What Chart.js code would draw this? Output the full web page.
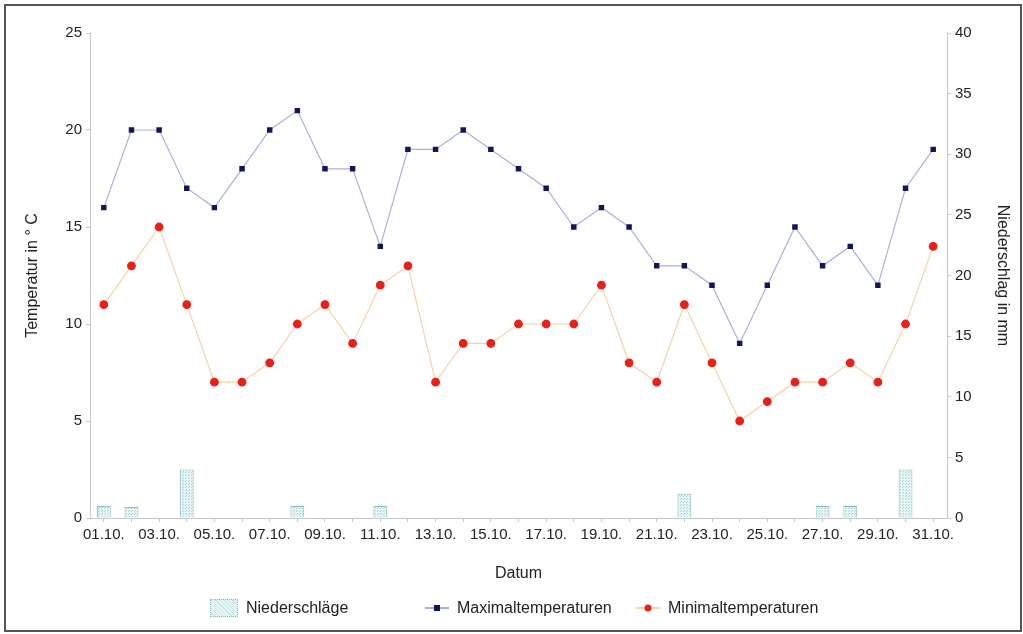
<!DOCTYPE html>
<html>
<head>
<meta charset="utf-8">
<script src="https://cdn.jsdelivr.net/npm/chart.js@4/dist/chart.umd.min.js"></script>
<style>
  html, body { margin: 0; padding: 0; background: #fff; }
  #frame {
    position: absolute; left: 4px; top: 4px;
    width: 1014px; height: 624px;
    border: 2px solid #555; background: #fff;
  }
  #c { display: block; }
  .lg { position: absolute; top: 598px; height: 20px; display: flex; align-items: center;
        font: 16px 'Liberation Sans', Arial, sans-serif; color: #222; }
  .lg .box { width: 26px; height: 16px; border: 1px dotted #8fbcc0; margin-right: 8px;
             background: repeating-linear-gradient(45deg, #e6f6f7 0 2px, #c5e4e6 2px 3px); }
  .lg .ln { position: relative; width: 24px; height: 2px; margin-right: 8px; }
  .lg .ln i { position: absolute; left: 50%; top: 50%; transform: translate(-50%, -50%); }
</style>
</head>
<body>
<div id="frame"><canvas id="c" width="1014" height="624"></canvas></div>
<div id="legend"></div>
<script>
// data
const days = ['01.10.', '02.10.', '03.10.', '04.10.', '05.10.', '06.10.', '07.10.', '08.10.', '09.10.', '10.10.',
  '11.10.', '12.10.', '13.10.', '14.10.', '15.10.', '16.10.', '17.10.', '18.10.', '19.10.', '20.10.',
  '21.10.', '22.10.', '23.10.', '24.10.', '25.10.', '26.10.', '27.10.', '28.10.', '29.10.', '30.10.', '31.10.'];
const maxTemp = [16, 20, 20, 17, 16, 18, 20, 21, 18, 18, 14, 19, 19, 20, 19, 18, 17, 15, 16, 15, 13, 13, 12, 9, 12, 15, 13, 14, 12, 17, 19];
const minTemp = [11, 13, 15, 11, 7, 7, 8, 10, 11, 9, 12, 13, 7, 9, 9, 10, 10, 10, 12, 8, 7, 11, 8, 5, 6, 7, 7, 8, 7, 10, 14];
const rain = [1, 0.9, 0, 4, 0, 0, 0, 1, 0, 0, 1, 0, 0, 0, 0, 0, 0, 0, 0, 0, 0, 2, 0, 0, 0, 0, 1, 1, 0, 4, 0];

const FONT = 'Liberation Sans, Arial, sans-serif';
const axisGray = '#c8c8c8';
const maxColor = '#14145a', maxLine = '#a9b0e0';
const minColor = '#e8201a', minLine = '#f7d2a8';

// dotted hatch fill for the rain bars
const pat = document.createElement('canvas');
pat.width = 3; pat.height = 3;
const pctx = pat.getContext('2d');
pctx.fillStyle = '#e6f6f7';
pctx.fillRect(0, 0, 3, 3);
pctx.fillStyle = '#a9d3d6';
pctx.fillRect(0, 0, 1, 1);
pctx.fillRect(2, 1, 1, 1);
const rainFill = document.getElementById('c').getContext('2d').createPattern(pat, 'repeat');

const chart = new Chart(document.getElementById('c'), {
  data: {
    labels: days,
    datasets: [
      {
        type: 'bar',
        label: 'Niederschläge',
        data: rain,
        yAxisID: 'yR',
        backgroundColor: rainFill,
        borderColor: '#8fbcc0',
        borderWidth: 1,
        barPercentage: 0.5,
        categoryPercentage: 1,
        order: 3
      },
      {
        type: 'line',
        label: 'Maximaltemperaturen',
        data: maxTemp,
        yAxisID: 'y',
        borderColor: maxLine,
        borderWidth: 1.2,
        pointStyle: 'rect',
        pointRadius: 3,
        pointBackgroundColor: maxColor,
        pointBorderColor: maxColor,
        tension: 0,
        order: 1
      },
      {
        type: 'line',
        label: 'Minimaltemperaturen',
        data: minTemp,
        yAxisID: 'y',
        borderColor: minLine,
        borderWidth: 1.2,
        pointStyle: 'circle',
        pointRadius: 3.8,
        pointBackgroundColor: minColor,
        pointBorderColor: minColor,
        tension: 0,
        order: 2
      }
    ]
  },
  options: {
    responsive: false,
    animation: false,
    layout: { padding: { top: 27, right: 0, left: 0, bottom: 43 } },
    plugins: {
      tooltip: { enabled: false },
      legend: { display: false }
    },
    scales: {
      x: {
        offset: true,
        grid: { drawOnChartArea: false, drawTicks: true, tickLength: 4, color: axisGray, offset: false },
        border: { color: axisGray },
        ticks: {
          autoSkip: false, maxRotation: 0, color: '#222', padding: 4,
          font: { family: FONT, size: 15 },
          callback: (v, i) => (i % 2 === 0 ? days[i] : '')
        },
        title: { display: true, text: 'Datum', color: '#222', font: { family: FONT, size: 16 }, padding: { top: 20, bottom: 4 } },
        afterFit(scale) { scale.height = 69; }
      },
      y: {
        position: 'left',
        min: 0, max: 25,
        ticks: { stepSize: 5, color: '#222', font: { family: FONT, size: 15 }, padding: 4 },
        grid: { drawOnChartArea: false, tickLength: 4, color: axisGray },
        border: { color: axisGray },
        title: { display: true, text: 'Temperatur in ° C', color: '#222', font: { family: FONT, size: 16 }, padding: { top: 17, bottom: 4 } },
        afterFit(scale) { scale.width = 84; }
      },
      yR: {
        position: 'right',
        min: 0, max: 40,
        ticks: { stepSize: 5, color: '#222', font: { family: FONT, size: 15 }, padding: 4 },
        grid: { drawOnChartArea: false, tickLength: 4, color: axisGray },
        border: { color: axisGray },
        title: { display: true, text: 'Niederschlag in mm', color: '#222', font: { family: FONT, size: 16 }, padding: { top: 8, bottom: 4 } },
        afterFit(scale) { scale.width = 73; }
      }
    }
  }
});

// legend laid out like the original (bar box, then line+marker entries)
const legend = document.getElementById('legend');
const ds = chart.data.datasets;
const items = [
  { left: 210, html: `<span class="box"></span>${ds[0].label}` },
  { left: 425, html: `<span class="ln" style="background:${maxLine}"><i style="width:6px;height:6px;background:${maxColor}"></i></span>${ds[1].label}` },
  { left: 636, html: `<span class="ln" style="background:${minLine}"><i style="width:7px;height:7px;border-radius:50%;background:${minColor}"></i></span>${ds[2].label}` }
];
items.forEach(it => {
  const d = document.createElement('div');
  d.className = 'lg';
  d.style.left = it.left + 'px';
  d.innerHTML = it.html;
  legend.appendChild(d);
});
</script>
</body>
</html>
